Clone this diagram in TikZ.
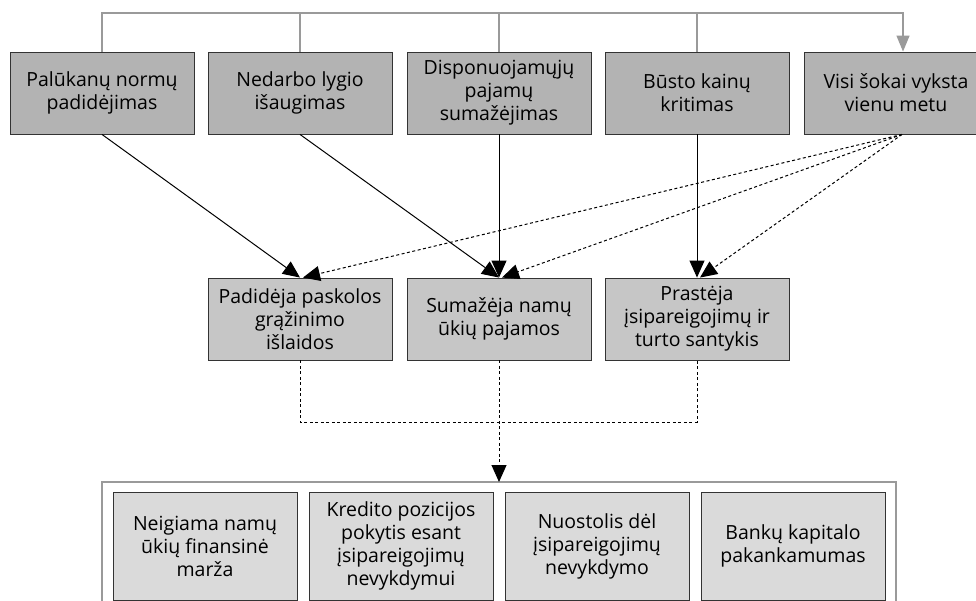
\documentclass[tikz,border=0pt]{standalone}
\usepackage{fontspec}
\setmainfont{Open Sans}
\usetikzlibrary{arrows.meta}
\definecolor{topfill}{HTML}{B3B3B3}
\definecolor{midfill}{HTML}{C6C6C6}
\definecolor{botfill}{HTML}{DADADA}
\definecolor{edge}{HTML}{333333}
\definecolor{lgray}{HTML}{9A9A9A}
\tikzset{
  box/.style={draw=edge, line width=0.9pt, minimum width=184pt, align=center, inner sep=0pt,
    font=\fontsize{19.5}{23}\selectfont},
  topbox/.style={box, fill=topfill, minimum height=82pt},
  midbox/.style={box, fill=midfill, minimum height=82pt},
  botbox/.style={box, fill=botfill, minimum height=108pt},
  solidarr/.style={line width=1pt, -{Triangle[length=17pt,width=15pt]}},
  dasharr/.style={line width=1pt, dash pattern=on 3pt off 2.5pt, -{Triangle[length=17pt,width=15pt]}},
  dashln/.style={line width=1pt, dash pattern=on 3pt off 2.5pt},
  grayln/.style={draw=lgray, line width=1.3pt},
}
\begin{document}
\begin{tikzpicture}[x=1pt,y=-1pt]
\useasboundingbox (0,0) rectangle (976,601);
% top row
\node[topbox] (t1) at (102,93) {Palūkanų normų\\padidėjimas};
\node[topbox] (t2) at (300,93) {Nedarbo lygio\\išaugimas};
\node[topbox] (t3) at (499,93) {Disponuojamųjų\\pajamų\\sumažėjimas};
\node[topbox] (t4) at (697,93) {Būsto kainų\\kritimas};
\node[topbox] (t5) at (896,93) {Visi šokai vyksta\\vienu metu};
% middle row
\node[midbox] (m1) at (300,319) {Padidėja paskolos\\grąžinimo\\išlaidos};
\node[midbox] (m2) at (499,319) {Sumažėja namų\\ūkių pajamos};
\node[midbox] (m3) at (697,319) {Prastėja\\įsipareigojimų ir\\turto santykis};
% bottom row
\node[botbox] (b1) at (205,546) {Neigiama namų\\ūkių finansinė\\marža};
\node[botbox] (b2) at (401,546) {Kredito pozicijos\\pokytis esant\\įsipareigojimų\\nevykdymui};
\node[botbox] (b3) at (597,546) {Nuostolis dėl\\įsipareigojimų\\nevykdymo};
\node[botbox] (b4) at (793,546) {Bankų kapitalo\\pakankamumas};
% outer frame (open at the bottom)
\coordinate (fl) at (102,601);
\coordinate (fr) at (896,601);
\coordinate (ftop) at (499,482);
\draw[draw=lgray, line width=2.2pt] (fl) -- (102,482) -- (896,482) -- (fr);
% top gray connector
\coordinate (ty) at (0,13);
\coordinate (t5in) at ([xshift=7pt]t5.north);
\draw[grayln] (t2.north) -- (t2.north |- ty);
\draw[grayln] (t3.north) -- (t3.north |- ty);
\draw[grayln] (t4.north) -- (t4.north |- ty);
\draw[grayln, -{Triangle[length=16pt,width=13pt]}] (t1.north) -- (t1.north |- ty) -- (t5in |- ty) -- (t5in);
% solid arrows
\draw[solidarr] (t1.south) -- (m1.north);
\draw[solidarr] (t2.south) -- (m2.north);
\draw[solidarr] (t3.south) -- (m2.north);
\draw[solidarr] (t4.south) -- (m3.north);
% dashed arrows from t5
\coordinate (t5out) at ([xshift=6pt]t5.south);
\draw[dasharr] (t5out) -- ([xshift=3pt]m1.north);
\draw[dasharr] (t5out) -- ([xshift=3pt]m2.north);
\draw[dasharr] (t5out) -- ([xshift=3pt]m3.north);
% dashed joiner
\coordinate (jy) at (0,422);
\draw[dashln] (m1.south) -- (m1.south |- jy) -- (m3.south |- jy) -- (m3.south);
\draw[dasharr] (m2.south) -- (ftop);
\end{tikzpicture}
\end{document}
